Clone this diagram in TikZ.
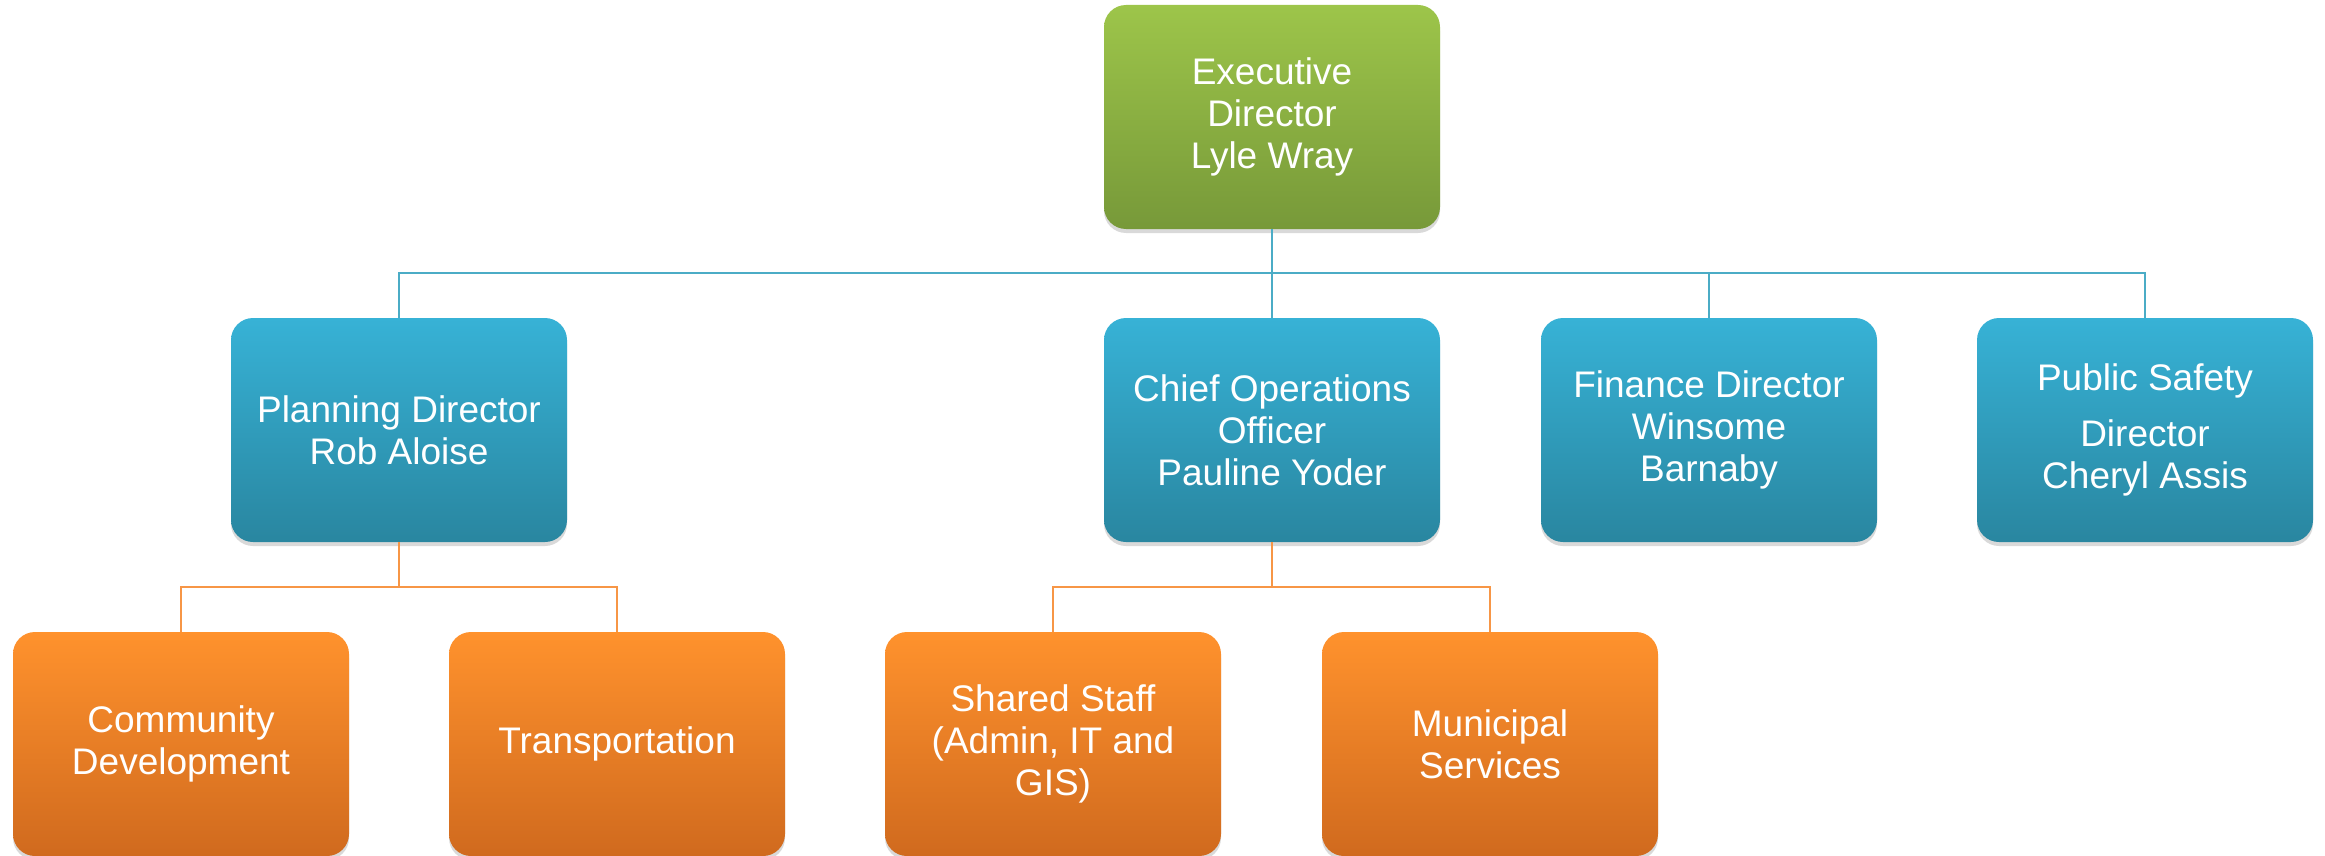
\documentclass[tikz,border=0pt]{standalone}
\usepackage{fontspec}
\setmainfont{Liberation Sans}
\usetikzlibrary{shadows}
\definecolor{gtop}{RGB}{157,197,74}
\definecolor{gbot}{RGB}{119,153,57}
\definecolor{btop}{RGB}{55,178,214}
\definecolor{bbot}{RGB}{41,134,160}
\definecolor{otop}{RGB}{255,146,45}
\definecolor{obot}{RGB}{208,106,30}
\definecolor{bline}{RGB}{75,172,198}
\definecolor{oline}{RGB}{247,150,70}
\tikzset{
  box/.style={rounded corners=22pt, minimum width=336pt, minimum height=224pt,
    inner sep=0pt, align=center, text=white,
    font=\fontsize{37}{42}\selectfont,
    drop shadow={shadow xshift=0pt, shadow yshift=-4pt, opacity=0.15, fill=black}},
  greenbox/.style={box, top color=gtop, bottom color=gbot},
  bluebox/.style={box, top color=btop, bottom color=bbot},
  orangebox/.style={box, top color=otop, bottom color=obot},
  bconn/.style={draw=bline, line width=2pt},
  oconn/.style={draw=oline, line width=2pt},
}
\begin{document}
\begin{tikzpicture}[x=1pt,y=-1pt]
\useasboundingbox (0,0) rectangle (2325,856);
% nodes
\node[greenbox] (exec) at (1272,117) {Executive\\Director\\Lyle Wray};
\node[bluebox] (plan) at (399,430) {Planning Director\\Rob Aloise};
\node[bluebox] (coo) at (1272,430) {Chief Operations\\Officer\\Pauline Yoder};
\node[bluebox] (fin) at (1709,430) {Finance Director\\Winsome\\Barnaby};
\node[bluebox] (pub) at (2145,430) {Public Safety\\[14pt]Director\\Cheryl Assis};
\node[orangebox] (comm) at (181,744) {Community\\Development};
\node[orangebox] (trans) at (617,744) {Transportation};
\node[orangebox] (shared) at (1053,744) {Shared Staff\\(Admin, IT and\\GIS)};
\node[orangebox] (muni) at (1490,744) {Municipal\\Services};
% bus coordinates
\coordinate (busA) at (1272,273);
\coordinate (busB) at (399,587);
\coordinate (busC) at (1272,587);
% connectors
\draw[bconn] (exec.south) -- (coo.north);
\draw[bconn] (busA) -| (plan.north);
\draw[bconn] (busA) -| (fin.north);
\draw[bconn] (busA) -| (pub.north);
\draw[oconn] (plan.south) -- (busB);
\draw[oconn] (busB) -| (comm.north);
\draw[oconn] (busB) -| (trans.north);
\draw[oconn] (coo.south) -- (busC);
\draw[oconn] (busC) -| (shared.north);
\draw[oconn] (busC) -| (muni.north);
\end{tikzpicture}
\end{document}
